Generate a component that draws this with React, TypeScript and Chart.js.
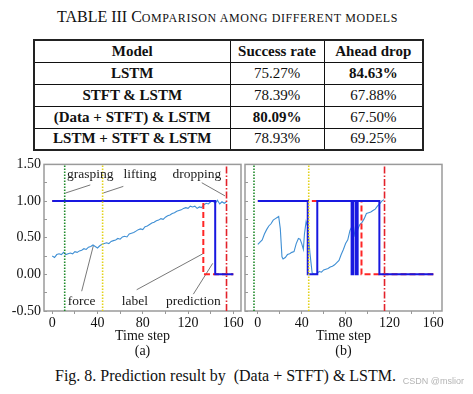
import React, { useEffect, useRef } from "react";
import { Chart, registerables } from "chart.js";
Chart.register(...registerables);

const FONT = '"Liberation Serif", "Times New Roman", serif';
Chart.defaults.font.family = FONT;

// ---------- table ----------
const tableHeaders = ["Model", "Success rate", "Ahead drop"];
const modelNames = ["LSTM", "STFT & LSTM", "(Data + STFT) & LSTM", "LSTM + STFT & LSTM"];
const successRates = ["75.27%", "78.39%", "80.09%", "78.93%"];
const aheadDrops = ["84.63%", "67.88%", "67.50%", "69.25%"];
const boldSuccess = [false, false, true, false];
const boldAhead = [true, false, false, false];

// ---------- axes ----------
const xTickValues = [0, 20, 40, 60, 80, 100, 120, 140, 160];
const xLabelValues = [0, 40, 80, 120, 160];
const yTickValues = [-0.5, -0.25, 0, 0.25, 0.5, 0.75, 1, 1.25, 1.5];
const yLabelValues = [-0.5, 0, 0.5, 1, 1.5];

// ---------- panel (a) ----------
const forceStepsA = [0, 2, 4, 6, 8, 10, 12, 14, 16, 18, 20, 22, 24, 26, 28, 30, 32, 34, 36, 38, 40, 42, 44, 46, 48, 50, 52, 54, 56, 58, 60, 62, 64, 66, 68, 70, 72, 74, 76, 78, 80, 82, 84, 86, 88, 90, 92, 94, 96, 98, 100, 102, 104, 106, 108, 110, 112, 114, 116, 118, 120, 122, 124, 126, 128, 130, 132, 134, 136, 138, 140, 142, 144, 146, 148, 150, 152, 154];
const forceValuesA = [0.25, 0.23, 0.27, 0.28, 0.27, 0.3, 0.27, 0.28, 0.29, 0.28, 0.31, 0.3, 0.32, 0.33, 0.35, 0.34, 0.37, 0.38, 0.4, 0.38, 0.36, 0.39, 0.41, 0.42, 0.43, 0.42, 0.45, 0.46, 0.47, 0.49, 0.48, 0.51, 0.52, 0.51, 0.55, 0.56, 0.57, 0.59, 0.61, 0.62, 0.61, 0.65, 0.66, 0.68, 0.7, 0.71, 0.73, 0.74, 0.76, 0.75, 0.78, 0.8, 0.81, 0.83, 0.84, 0.86, 0.87, 0.88, 0.9, 0.91, 0.9, 0.93, 0.92, 0.93, 0.9, 0.92, 0.91, 0.95, 0.97, 0.96, 0.99, 1.0, 0.97, 1.01, 0.96, 0.99, 0.97, 0.99];
const labelStepsA = [0, 133.5, 133.5, 160];
const labelValuesA = [1, 1, 0, 0];
const predStepsA = [0, 144, 144, 160];
const predValuesA = [1, 1, 0, 0];
const eventStepsA = [11, 44.5, 154]; // grasping, lifting, dropping
const annotTextA = ["grasping", "lifting", "dropping", "force", "label", "prediction"];
const annotXA = [33.6, 77.6, 127.7, 26, 73.1, 124.7];
const annotYA = [1.36, 1.36, 1.36, -0.37, -0.37, -0.37];
const leaderX1A = [33.6, 62.8, 132.1, 26, 74.6, 124.7];
const leaderY1A = [1.22, 1.2, 1.25, -0.23, -0.21, -0.27];
const leaderX2A = [11.8, 45.1, 152.7, 36.3, 133, 141.8];
const leaderY2A = [1.11, 1.11, 1.07, 0.39, 0.28, 0.15];

// ---------- panel (b) ----------
const forceStepsB = [0, 2, 4, 6, 8, 10, 12, 14, 16, 18, 19, 20.5, 22, 23, 25, 27, 29, 31, 33, 35, 37, 38.5, 40, 41.5, 42.5, 44, 45.5, 47.5, 49.5, 52, 54, 56, 58, 60, 62, 64, 66, 68, 70, 72, 74, 76, 78, 80, 82, 84, 86, 87, 88.5, 90, 91, 93, 95, 97, 99, 101, 103, 105, 107, 109, 111, 113, 115];
const forceValuesB = [0.41, 0.44, 0.47, 0.55, 0.61, 0.66, 0.69, 0.74, 0.76, 0.78, 0.79, 0.62, 0.24, 0.21, 0.23, 0.27, 0.28, 0.3, 0.31, 0.42, 0.49, 0.48, 0.42, 0.34, 0.55, 0.72, 0.65, 0.29, 0.02, 0.0, 0.01, 0.04, 0.03, 0.06, 0.07, 0.08, 0.1, 0.11, 0.13, 0.16, 0.19, 0.27, 0.34, 0.42, 0.47, 0.6, 0.66, 0.68, 0.52, 0.5, 0.61, 0.68, 0.71, 0.76, 0.83, 0.84, 0.85, 0.87, 0.89, 0.93, 0.96, 1.0, 1.02];
const labelStepsB = [0, 94.5, 94.5, 160];
const labelValuesB = [1, 1, 0, 0];
const predStepsB = [0, 45.5, 45.5, 54.2, 54.2, 85.5, 85.5, 87.1, 87.1, 89.4, 89.4, 91.0, 91.0, 110.8, 110.8, 160];
const predValuesB = [1, 1, 0, 0, 1, 1, 0, 0, 1, 1, 0, 0, 1, 1, 0, 0];
const eventStepsB = [-3.5, 46.4, 115.5];

const EVENT_COLORS = ["#1f8a2a", "#e2d21a", "#e3222a"];
const EVENT_DASH = [[1.5, 1.5], [1.5, 1.5], [7, 2, 1.5, 2]];

const pts = (xs: number[], ys: number[]) => xs.map((x, i) => ({ x, y: ys[i] }));

type PanelOpts = {
  forceX: number[]; forceY: number[];
  labelX: number[]; labelY: number[];
  predX: number[]; predY: number[];
  events: number[];
  xMin: number; xMax: number;
  sub: string;
  showY: boolean;
  yWidth: number;
  padRight: number;
  annot?: boolean;
};

function makeConfig(o: PanelOpts): any {
  const datasets: any[] = [];
  o.events.forEach((e, i) => {
    datasets.push({
      data: [{ x: e, y: -0.5 }, { x: e, y: 1.5 }],
      borderColor: EVENT_COLORS[i], borderWidth: 1.6, borderDash: EVENT_DASH[i],
      pointRadius: 0, order: 0,
    });
  });
  datasets.push({ data: pts(o.predX, o.predY), borderColor: "#1818e0", borderWidth: 2, pointRadius: 0, order: 1 });
  datasets.push({ data: pts(o.labelX, o.labelY), borderColor: "#ff2525", borderWidth: 2, borderDash: [6, 3], pointRadius: 0, order: 2 });
  datasets.push({ data: pts(o.forceX, o.forceY), borderColor: "#3f8fd4", borderWidth: 1.1, pointRadius: 0, order: 3 });
  if (o.annot) {
    leaderX1A.forEach((x1, i) => {
      datasets.push({
        data: [{ x: x1, y: leaderY1A[i] }, { x: leaderX2A[i], y: leaderY2A[i] }],
        borderColor: "#555", borderWidth: 0.8, pointRadius: 0, order: 4,
      });
    });
  }

  const framePlugin = {
    id: "frame",
    beforeDatasetsDraw(chart: any) {
      const { ctx, chartArea: a } = chart;
      ctx.save();
      ctx.strokeStyle = "#9a9a9a";
      ctx.lineWidth = 1.5;
      ctx.strokeRect(a.left, a.top, a.right - a.left, a.bottom - a.top);
      ctx.restore();
    },
  };
  const annotPlugin = {
    id: "annot",
    afterDatasetsDraw(chart: any) {
      if (!o.annot) return;
      const { ctx } = chart;
      const xs = chart.scales.x, ys = chart.scales.y;
      ctx.save();
      ctx.font = `13.5px ${FONT}`;
      ctx.fillStyle = "#1a1a1a";
      ctx.textAlign = "center";
      ctx.textBaseline = "middle";
      annotTextA.forEach((t, i) => {
        ctx.fillText(t, xs.getPixelForValue(annotXA[i]), ys.getPixelForValue(annotYA[i]));
      });
      ctx.restore();
    },
  };

  return {
    type: "line",
    data: { datasets },
    plugins: [framePlugin, annotPlugin],
    options: {
      animation: false,
      responsive: false,
      devicePixelRatio: 1,
      parsing: true,
      layout: { padding: { left: 0, top: 14, right: o.padRight, bottom: 0 } },
      plugins: { legend: { display: false }, tooltip: { enabled: false }, title: { display: false } },
      elements: { line: { tension: 0 } },
      scales: {
        x: {
          type: "linear", min: o.xMin, max: o.xMax,
          afterBuildTicks: (s: any) => { s.ticks = xTickValues.map((v) => ({ value: v })); },
          afterFit: (s: any) => { s.height = 54; },
          grid: { drawOnChartArea: false, drawTicks: true, tickLength: 3, color: "#999" },
          border: { display: false },
          ticks: {
            autoSkip: false, maxRotation: 0, padding: 1, color: "#111",
            font: { size: 14, family: FONT },
            callback: (v: any) => (xLabelValues.includes(v) ? String(v) : ""),
          },
          title: {
            display: true, text: ["Time step", o.sub], color: "#111",
            font: { size: 14, family: FONT, lineHeight: 1.08 },
            padding: { top: 0, bottom: 6 },
          },
        },
        y: {
          type: "linear", min: -0.5, max: 1.5,
          afterBuildTicks: (s: any) => { s.ticks = yTickValues.map((v) => ({ value: v })); },
          afterFit: (s: any) => { s.width = o.yWidth; },
          grid: { drawOnChartArea: false, drawTicks: true, tickLength: -3, color: "#999" },
          border: { display: false },
          ticks: {
            autoSkip: false, padding: 6, color: "#111",
            font: { size: 14, family: FONT },
            callback: (v: any) => (o.showY && yLabelValues.includes(v) ? Number(v).toFixed(2) : ""),
          },
        },
      },
    },
  };
}

function Panel({ opts, left, top, width, height }: { opts: PanelOpts; left: number; top: number; width: number; height: number }) {
  const ref = useRef<HTMLCanvasElement>(null);
  useEffect(() => {
    const chart = new Chart(ref.current as HTMLCanvasElement, makeConfig(opts));
    return () => chart.destroy();
  }, []);
  return (
    <canvas ref={ref} width={width} height={height}
      style={{ position: "absolute", left, top, width, height }} />
  );
}

const cell = (bold: boolean): React.CSSProperties => ({
  border: "1px solid #111", textAlign: "center", padding: 0,
  fontWeight: bold ? "bold" : "normal", verticalAlign: "middle",
  fontFamily: FONT, fontSize: 15, color: "#111",
});

export default function App() {
  return (
    <div style={{ position: "absolute", left: 0, top: 0, width: 473, height: 394, background: "#fff", fontFamily: FONT, color: "#111", overflow: "hidden" }}>
      <div style={{ position: "absolute", left: 0, width: 455, top: 8, textAlign: "center", fontSize: 16, lineHeight: "18px", whiteSpace: "nowrap" }}>
        TABLE III C<span style={{ fontSize: 12, letterSpacing: 0.6 }}>OMPARISON AMONG DIFFERENT MODELS</span>
      </div>
      <table style={{ position: "absolute", left: 33, top: 39, width: 389, height: 110, borderCollapse: "collapse", tableLayout: "fixed", fontSize: 15, fontFamily: FONT, border: "2px solid #222" }}>
        <colgroup>
          <col style={{ width: 196 }} />
          <col style={{ width: 94 }} />
          <col style={{ width: 99 }} />
        </colgroup>
        <tbody>
          <tr style={{ height: 22 }}>
            {tableHeaders.map((h) => <td key={h} style={cell(true)}>{h}</td>)}
          </tr>
          {modelNames.map((m, i) => (
            <tr key={m} style={{ height: 22 }}>
              <td style={cell(true)}>{m}</td>
              <td style={cell(boldSuccess[i])}>{successRates[i]}</td>
              <td style={cell(boldAhead[i])}>{aheadDrops[i]}</td>
            </tr>
          ))}
        </tbody>
      </table>

      <Panel left={0} top={150} width={245} height={215}
        opts={{ forceX: forceStepsA, forceY: forceValuesA, labelX: labelStepsA, labelY: labelValuesA, predX: predStepsA, predY: predValuesA, events: eventStepsA, xMin: -7.3, xMax: 166.8, sub: "(a)", showY: true, yWidth: 44, padRight: 4, annot: true }} />
      <Panel left={240} top={150} width={233} height={215}
        opts={{ forceX: forceStepsB, forceY: forceValuesB, labelX: labelStepsB, labelY: labelValuesB, predX: predStepsB, predY: predValuesB, events: eventStepsB, xMin: -11.7, xMax: 167.9, sub: "(b)", showY: false, yWidth: 5, padRight: 31 }} />

      <div style={{ position: "absolute", left: 55, top: 366, fontSize: 16, lineHeight: "20px", whiteSpace: "pre" }}>
        {"Fig. 8. Prediction result by  (Data + STFT) & LSTM."}
      </div>
      <div style={{ position: "absolute", right: 9, top: 376, fontSize: 9, lineHeight: "11px", color: "#b4b4b4", fontFamily: '"Liberation Sans", Arial, sans-serif', whiteSpace: "nowrap" }}>
        CSDN @mslior
      </div>
    </div>
  );
}
